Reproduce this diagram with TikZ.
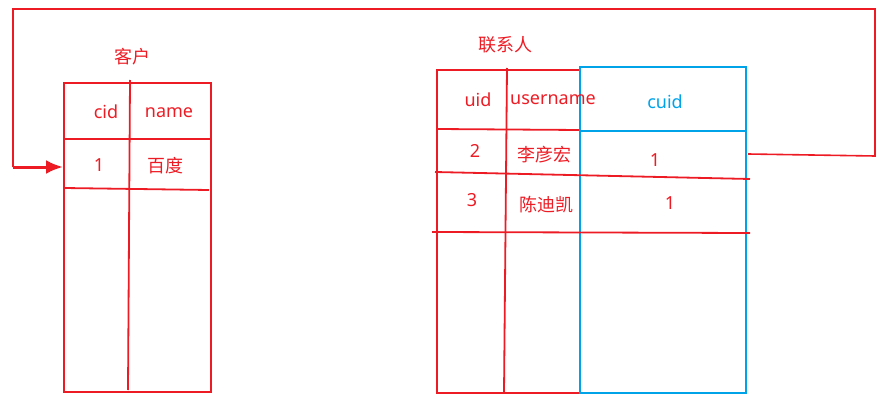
\documentclass[tikz,border=0pt]{standalone}
\usepackage{fontspec}
\setmainfont{Noto Sans}
\newfontfamily\cjk{Noto Sans CJK SC}
\usetikzlibrary{arrows.meta}
\definecolor{pred}{HTML}{ED1C24}
\definecolor{pblue}{HTML}{00A2E8}
\tikzset{>=latex}
\tikzstyle{table line}=[draw=pred,line width=1.8]
\tikzstyle{key line}=[draw=pblue,line width=1.8]
\tikzstyle{cell}=[text=pred,inner sep=0,font=\fontsize{18}{18}\selectfont]
\tikzstyle{key cell}=[cell,text=pblue]
\tikzstyle{link}=[draw=pred,line width=1.6,line join=miter]
\tikzstyle{link head}=[-{Latex[length=17,width=14]},draw=pred,fill=pred,line width=3]

\begin{document}
\begin{tikzpicture}[x=1pt,y=-1pt]
            \useasboundingbox (0,0) rectangle (886,401);

            % CUSTOMER TABLE
            \draw[table line] (64,83) rectangle (211,392);
            \draw[table line] (64,139) -- (211,139);
            \draw[table line] (64,188) -- (209,190);
            \draw[table line] (130,80) -- (128,390);

            \node[cell] (cust) at (132,57) {\cjk 客户};
            \node[cell] (cid) at (106,112) {cid};
            \node[cell] (name) at (169,113) {name};
            \node[cell] (cid1) at (99,165) {1};
            \node[cell] (name1) at (165,166) {\cjk 百度};

            % CONTACT TABLE
            \draw[table line] (580,70) -- (437,70) -- (437,393) -- (580,393);
            \draw[table line] (437,129) -- (580,130);
            \draw[table line] (507,68) -- (504,393);
            \draw[key line] (580,67) rectangle (746,393);
            \draw[key line] (580,131) -- (746,131);
            \draw[table line] (435,172) -- (750,179);
            \draw[table line] (432,232) -- (750,233);

            \node[cell] (cont) at (505,45) {\cjk 联系人};
            \node[cell] (uid) at (478,100) {uid};
            \node[cell] (uname) at (553,100) {username};
            \node[key cell] (cuid) at (665,102) {cuid};
            \node[cell] (uid2) at (475,151) {2};
            \node[cell] (uname2) at (544,155) {\cjk 李彦宏};
            \node[cell] (cuid2) at (655,160) {1};
            \node[cell] (uid3) at (472,200) {3};
            \node[cell] (uname3) at (546,205) {\cjk 陈迪凯};
            \node[cell] (cuid3) at (670,203) {1};

            % FOREIGN KEY LINK
            \coordinate (fk) at (748,154);
            \coordinate (pk) at (63,167);
            \coordinate (turn) at (13,167);
            \draw[link] (fk) -- (875,156) -- (875,9) -- (13,9) -- (turn);
            \draw[link head] (turn) -- (pk);

\end{tikzpicture}
\end{document}
